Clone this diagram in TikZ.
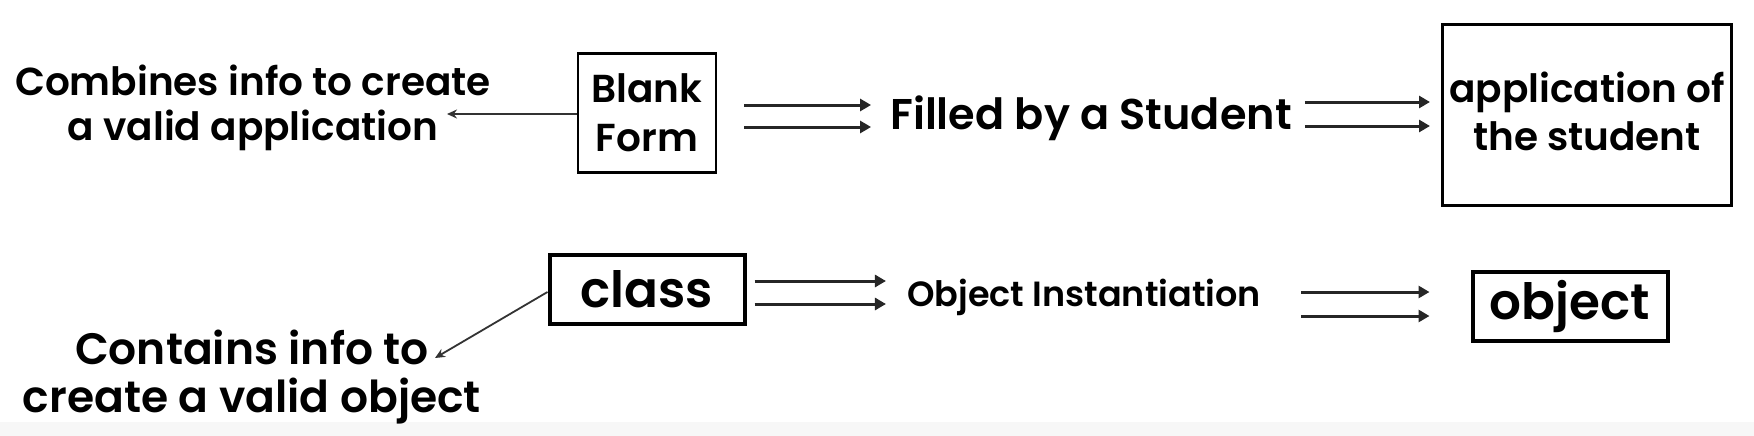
\documentclass[tikz,border=0pt]{standalone}
\usepackage{fontspec}
\setmainfont{Poppins}[BoldFont={Poppins SemiBold}]
\usetikzlibrary{arrows.meta}
\tikzset{
  lbl/.style={font=\bfseries\fontsize{39}{45}\selectfont, align=center, inner sep=0pt},
  boxa/.style={draw, line width=2.5pt, align=center, inner sep=0pt, font=\bfseries\fontsize{39}{49}\selectfont},
  boxb/.style={draw, line width=4pt, inner sep=0pt, font=\bfseries\fontsize{50}{50}\selectfont},
  dbl/.style={line width=3pt, draw=black!85, -{Triangle[length=11pt,width=12pt]}},
  thin/.style={line width=1.8pt, draw=black!80, -{Stealth[length=10pt,width=9pt]}}
}
\begin{document}
\begin{tikzpicture}[x=1pt,y=-1pt]
\path[use as bounding box, fill=white] (0,0) rectangle (1754,436);
\fill[black!3] (0,422) rectangle (1754,436);
% top row
\node[lbl] (comb) at (253,108) {Combines info to create\\a valid application};
\node[boxa, minimum width=138pt, minimum height=119pt] (bf) at (647,113) {Blank\\Form};
\node[lbl, font=\bfseries\fontsize{43}{46}\selectfont] (filled) at (1091,118) {Filled by a Student};
\node[boxa, line width=3pt, minimum width=289pt, minimum height=180pt] (app) at (1587,115) {};
\node[lbl, font=\bfseries\fontsize{39}{48}\selectfont] (apptxt) at (1587,111) {application of\\the student};
\coordinate (combtip) at (447,114);
\draw[thin] (bf.west |- 0,114) -- (combtip);
\draw[dbl, shorten <=27pt, shorten >=19pt] (bf.east |- 0,105) -- (filled.west |- 0,105);
\draw[dbl, shorten <=27pt, shorten >=19pt] (bf.east |- 0,127) -- (filled.west |- 0,127);
\draw[dbl, shorten <=13pt, shorten >=11pt] (filled.east |- 0,102) -- (app.west |- 0,102);
\draw[dbl, shorten <=13pt, shorten >=11pt] (filled.east |- 0,126) -- (app.west |- 0,126);
% bottom row
\node[boxb, minimum width=195pt, minimum height=69pt] (cls) at (647,289) {class};
\node[lbl, font=\bfseries\fontsize{44}{48}\selectfont] (cont) at (252,377) {Contains info to\\create a valid object};
\node[lbl, font=\bfseries\fontsize{35}{40}\selectfont] (inst) at (1084,297) {Object Instantiation};
\node[boxb, minimum width=195pt, minimum height=69pt] (obj) at (1570,306) {object};
\coordinate (conttip) at (435,358);
\draw[thin] (cls.west |- 0,292) -- (conttip);
\draw[dbl, shorten <=8pt, shorten >=21pt] (cls.east |- 0,281) -- (inst.west |- 0,281);
\draw[dbl, shorten <=8pt, shorten >=21pt] (cls.east |- 0,304) -- (inst.west |- 0,304);
\draw[dbl, shorten <=40pt, shorten >=41pt] (inst.east |- 0,292) -- (obj.west |- 0,292);
\draw[dbl, shorten <=40pt, shorten >=41pt] (inst.east |- 0,316) -- (obj.west |- 0,316);
\end{tikzpicture}
\end{document}
